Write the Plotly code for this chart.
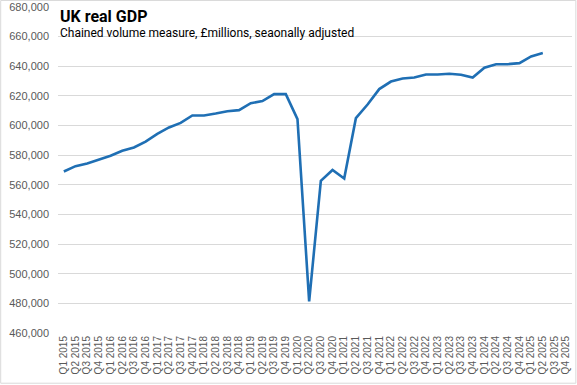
import plotly.graph_objects as go

quarters = [f"Q{q} {y}" for y in range(2015, 2026) for q in range(1, 5)]
gdp = [569000, 572600, 574400, 577100, 579600, 583000, 585200, 589200,
       594400, 598700, 601800, 606800, 606800, 608100, 609700, 610400,
       615100, 616500, 621200, 621200, 604300, 481300, 562700, 570000,
       564300, 605000, 614200, 624600, 629700, 631700, 632400, 634400,
       634400, 635000, 634300, 632400, 639000, 641400, 641400, 642100,
       646600, 648900]
title = "UK real GDP"
subtitle = "Chained volume measure, £millions, seaonally adjusted"

fig = go.Figure()
fig.add_trace(go.Scatter(x=quarters[:len(gdp)], y=gdp, mode="lines",
                         line=dict(color="#1f6fb4", width=2.6), hoverinfo="x+y"))

fig.update_layout(
    width=577, height=385,
    margin=dict(l=58, r=5, t=7, b=52),
    paper_bgcolor="white", plot_bgcolor="white",
    showlegend=False,
    font=dict(family="Liberation Sans, Arial, sans-serif", color="#595959"),
    xaxis=dict(type="category", categoryorder="array", categoryarray=quarters,
               range=[-0.5, len(quarters) - 0.5], tickangle=-90,
               tickmode="array", tickvals=quarters, ticktext=quarters,
               tickfont=dict(size=10, color="#595959"), showgrid=False,
               showline=False, ticks="", zeroline=False, automargin=False),
    yaxis=dict(range=[460000, 680000], dtick=20000, tickformat=",",
               tickfont=dict(size=11, color="#595959"), gridcolor="#d9d9d9",
               gridwidth=1, zeroline=False, showline=False, ticks="",
               ticklabelstandoff=8, automargin=False),
    shapes=[dict(type="rect", xref="paper", yref="paper",
                 x0=-0.1115, x1=1.0075, y0=-0.1540, y1=1.0200,
                 line=dict(color="#d9d9d9", width=1), fillcolor="rgba(0,0,0,0)", layer="below")],
    annotations=[
        dict(text=f"<b>{title}</b>", xref="paper", yref="paper", x=0, y=0.972,
             xanchor="left", yanchor="middle", showarrow=False,
             font=dict(size=16, color="#000000", family="Roboto, Liberation Sans, sans-serif"),
             bgcolor="white"),
        dict(text=subtitle, xref="paper", yref="paper", x=0, y=0.92,
             xanchor="left", yanchor="middle", showarrow=False,
             font=dict(size=12, color="#000000", family="Roboto, Liberation Sans, sans-serif")),
    ],
)

fig.write_html("out.html", config={"displayModeBar": False},
               post_script="document.body.style.margin='0';")
